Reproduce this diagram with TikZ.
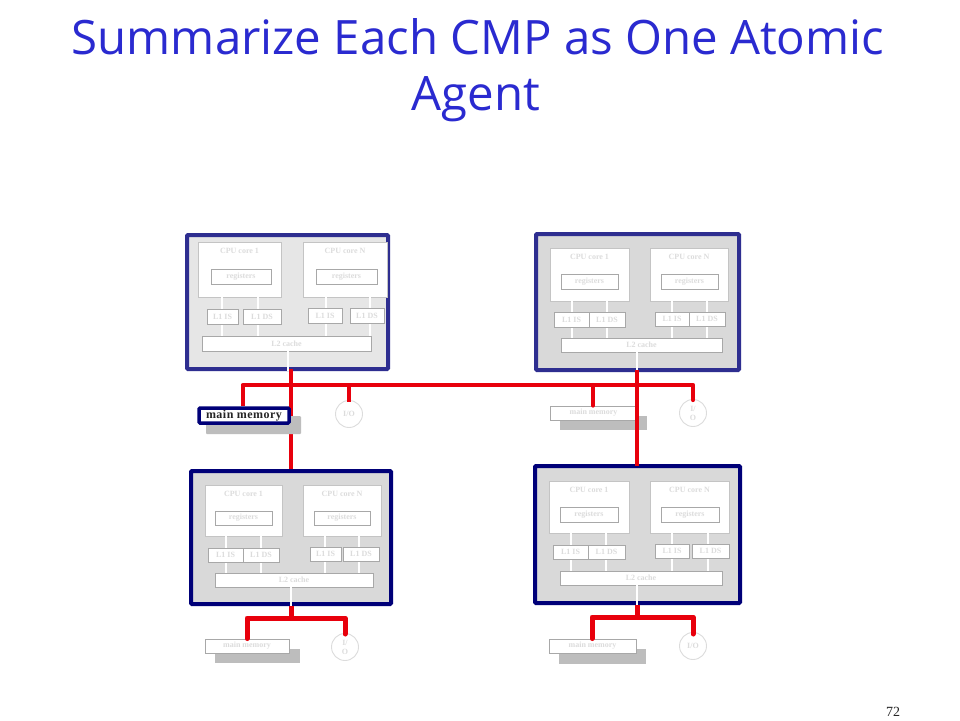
\documentclass[tikz,border=0pt]{standalone}
\usepackage{fontspec}
\setmainfont{Liberation Serif}
\newfontfamily\titlefont{Open Sans}
\newfontfamily\hotfont[LetterSpace=4]{Liberation Serif}
\definecolor{titleblue}{HTML}{2A2AD0}
\definecolor{redbus}{HTML}{E8000C}
\definecolor{navyedge}{HTML}{000078}
\definecolor{softedge}{HTML}{2E2E90}
\definecolor{panelA}{HTML}{E6E6E6}
\definecolor{panelB}{HTML}{D9D9D9}
\definecolor{edgegrey}{HTML}{A8A8A8}
\definecolor{coreedge}{HTML}{C4C4C4}
\definecolor{faint}{HTML}{DCDCDC}
\definecolor{shadowgrey}{HTML}{BDBDBD}
\tikzset{
  x=1pt,y=-1pt,
  panelbox/.style={draw=navyedge,line width=4pt,fill=panelB,rounded corners=1pt},
  softpanel/.style={panelbox,draw=softedge},
  lightpanel/.style={softpanel,fill=panelA},
  unitbox/.style={draw=edgegrey,line width=0.9pt,fill=white,text=faint,font=\bfseries\fontsize{8}{9}\selectfont},
  corebox/.style={unitbox,draw=coreedge},
  shadowbox/.style={fill=shadowgrey,draw=none},
  iocirc/.style={circle,draw=faint,line width=0.9pt,fill=white,text=faint,inner sep=0pt,minimum size=27pt,align=center,font=\bfseries\fontsize{8}{9}\selectfont},
  hotmem/.style={draw=navyedge,line width=3.5pt,fill=white,rounded corners=1pt,text=black!85,font=\hotfont\bfseries\fontsize{12}{12}\selectfont},
  whitewire/.style={draw=white,line width=2.6pt},
  redwire/.style={draw=redbus,line width=4.2pt},
  redthick/.style={draw=redbus,line width=5pt},
  titletext/.style={text=titleblue,font=\titlefont\fontsize{47.4}{54}\selectfont,inner sep=0pt,anchor=base},
}
% name, x1, y1, x2, y2, style, text
\newcommand{\bx}[7]{%
  \pgfmathsetmacro{\bxW}{#4-#2}\pgfmathsetmacro{\bxH}{#5-#3}%
  \pgfmathsetmacro{\bxX}{(#2+#4)/2}\pgfmathsetmacro{\bxY}{(#3+#5)/2}%
  \node[#6,inner sep=0pt,minimum width=\bxW pt,minimum height=\bxH pt] (#1) at (\bxX,\bxY) {#7};}
\newcommand{\wire}[3]{\coordinate (wtmp) at (#3,0);\draw[whitewire] (#1.south -| wtmp) -- (#2.north -| wtmp);}
\newcommand{\bwire}[3]{\coordinate (wtmp) at (#3,0);\draw[whitewire] (#1.south -| wtmp) -- (#2.south -| wtmp);}
\newcommand{\core}[2]{\node[anchor=north,text=faint,font=\bfseries\fontsize{8}{9}\selectfont,inner sep=0pt] at ([yshift=-6pt]#1.north) {#2};}
\begin{document}
\begin{tikzpicture}
\useasboundingbox (0,0) rectangle (960,720);
\fill[white] (0,0) rectangle (960,720);
\node[titletext] (t1) at (478,54) {Summarize Each CMP as One Atomic};
\node[titletext] (t2) at (476,110) {Agent};
\node[font=\fontsize{14}{16}\selectfont,text=black!85,inner sep=0pt] (pg) at (893,712) {72};

% ---------- top-left CMP
\bx{a}{187}{235}{388}{369}{lightpanel}{}
\bx{a1}{198}{242}{281}{297}{corebox}{}
\bx{aN}{303}{242}{387}{297}{corebox}{}
\core{a1}{CPU core 1}\core{aN}{CPU core N}
\bx{ar1}{211}{269}{271}{284}{unitbox}{registers}
\bx{arN}{316}{269}{377}{284}{unitbox}{registers}
\bx{al}{202}{336}{371}{351}{unitbox}{L2 cache}
\wire{a1}{al}{222}\wire{a1}{al}{258}\wire{aN}{al}{326}\wire{aN}{al}{370}
\bx{ai1}{207}{309}{238}{324}{unitbox}{L1 IS}
\bx{ad1}{243}{309}{281}{324}{unitbox}{L1 DS}
\bx{aiN}{308}{308}{342}{323}{unitbox}{L1 IS}
\bx{adN}{350}{308}{384}{323}{unitbox}{L1 DS}
\bwire{al}{a}{288}

% ---------- top-right CMP
\bx{b}{536}{234}{739}{370}{softpanel}{}
\bx{b1}{550}{248}{629}{301}{corebox}{}
\bx{bN}{650}{248}{728}{301}{corebox}{}
\core{b1}{CPU core 1}\core{bN}{CPU core N}
\bx{br1}{561}{274}{618}{289}{unitbox}{registers}
\bx{brN}{661}{274}{718}{289}{unitbox}{registers}
\bx{bl}{561}{338}{722}{352}{unitbox}{L2 cache}
\wire{b1}{bl}{572}\wire{b1}{bl}{607}\wire{bN}{bl}{672}\wire{bN}{bl}{707}
\bx{bi1}{554}{312}{589}{327}{unitbox}{L1 IS}
\bx{bd1}{589}{312}{625}{327}{unitbox}{L1 DS}
\bx{biN}{655}{312}{689}{326}{unitbox}{L1 IS}
\bx{bdN}{689}{312}{725}{326}{unitbox}{L1 DS}
\bwire{bl}{b}{637}

% ---------- bottom-left CMP
\bx{c}{191}{471}{391}{604}{panelbox}{}
\bx{c1}{205}{485}{282}{536}{corebox}{}
\bx{cN}{303}{485}{381}{536}{corebox}{}
\core{c1}{CPU core 1}\core{cN}{CPU core N}
\bx{cr1}{215}{511}{272}{525}{unitbox}{registers}
\bx{crN}{314}{511}{370}{525}{unitbox}{registers}
\bx{cl}{215}{573}{373}{587}{unitbox}{L2 cache}
\wire{c1}{cl}{226}\wire{c1}{cl}{261}\wire{cN}{cl}{325}\wire{cN}{cl}{359}
\bx{ci1}{208}{548}{243}{562}{unitbox}{L1 IS}
\bx{cd1}{243}{548}{279}{562}{unitbox}{L1 DS}
\bx{ciN}{310}{547}{341}{561}{unitbox}{L1 IS}
\bx{cdN}{343}{547}{379}{561}{unitbox}{L1 DS}
\bwire{cl}{c}{291}

% ---------- bottom-right CMP
\bx{d}{535}{466}{740}{603}{panelbox}{}
\bx{d1}{549}{481}{629}{533}{corebox}{}
\bx{dN}{650}{481}{729}{533}{corebox}{}
\core{d1}{CPU core 1}\core{dN}{CPU core N}
\bx{dr1}{560}{507}{618}{522}{unitbox}{registers}
\bx{drN}{661}{507}{719}{522}{unitbox}{registers}
\bx{dl}{560}{571}{722}{585}{unitbox}{L2 cache}
\wire{d1}{dl}{571}\wire{d1}{dl}{606}\wire{dN}{dl}{672}\wire{dN}{dl}{708}
\bx{di1}{553}{545}{588}{559}{unitbox}{L1 IS}
\bx{dd1}{588}{545}{625}{559}{unitbox}{L1 DS}
\bx{diN}{655}{544}{689}{558}{unitbox}{L1 IS}
\bx{ddN}{692}{544}{729}{558}{unitbox}{L1 DS}
\bwire{dl}{d}{637}

% ---------- junction coordinates
\coordinate (jM) at (243,385);
\coordinate (jI) at (349,385);
\coordinate (jBm) at (593,385);
\coordinate (jBi) at (693,385);
\coordinate (jC) at (291,618);
\coordinate (jCm) at (247,618);
\coordinate (jCi) at (345,618);
\coordinate (jD) at (637,617);
\coordinate (jDm) at (592,617);
\coordinate (jDi) at (693,617);

% ---------- I/O circles
\node[iocirc] (ioa) at (349,414) {I/O};
\node[iocirc] (iob) at (693,413) {I/\\O};
\node[iocirc] (ioc) at (345,647) {I/\\O};
\node[iocirc] (iod) at (693,646) {I/O};

% ---------- main bus, under the highlighted memory
\coordinate (aBot) at (291,369);
\coordinate (cTop) at (291,469);
\draw[redwire] (aBot) -- (cTop);
\bx{sa}{206}{416}{301}{434}{shadowbox,rounded corners=1pt}{}
\bx{ma}{199}{408}{289}{423}{hotmem}{main memory}

% ---------- memories with shadows
\bx{sb}{560}{416}{647}{430}{shadowbox}{}
\bx{mb}{550}{406}{637}{420}{unitbox}{main memory}
\bx{sc}{215}{649}{300}{663}{shadowbox}{}
\bx{mc}{205}{639}{289}{653}{unitbox}{main memory}
\bx{sd}{559}{649}{646}{664}{shadowbox}{}
\bx{md}{549}{639}{636}{653}{unitbox}{main memory}

% ---------- red connectors
\draw[redwire] (jM) -- (ma.north -| jM);
\draw[redwire,line cap=round,line join=round] (jM) -- (jBi) -- ([yshift=13pt]iob.center);
\draw[redwire] (jI) -- ([yshift=12pt]ioa.center);
\draw[redwire,line cap=round] (jBm) -- (mb.north -| jBm);
\coordinate (bBot) at (637,370);
\coordinate (dTop) at (637,466);
\draw[redwire] (bBot) -- (dTop);
\draw[redthick,line join=round] (c.south -| jC) -- (jC);
\draw[redthick,line join=round,line cap=round] (mc.north -| jCm) -- (jCm) -- (jCi) -- ([yshift=13pt]ioc.center);
\draw[redthick,line join=round] (d.south -| jD) -- (jD);
\draw[redthick,line join=round,line cap=round] (md.north -| jDm) -- (jDm) -- (jDi) -- ([yshift=12pt]iod.center);
\end{tikzpicture}
\end{document}
